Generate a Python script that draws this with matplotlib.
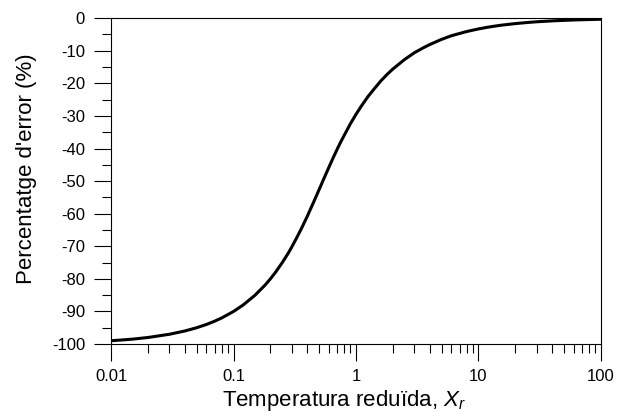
import matplotlib
matplotlib.use("Agg")
from matplotlib import pyplot as plt
from matplotlib.ticker import FixedLocator, MultipleLocator, LogLocator, NullFormatter

plt.rcParams['font.family'] = ['Liberation Sans', 'DejaVu Sans']
plt.rcParams['mathtext.fontset'] = 'custom'
plt.rcParams['mathtext.rm'] = 'Liberation Sans'
plt.rcParams['mathtext.it'] = 'Liberation Sans:italic'
plt.rcParams['axes.unicode_minus'] = False

# reduced temperature and error (%)
temp_r = [0.01, 0.015, 0.02, 0.03, 0.04, 0.05, 0.06, 0.07, 0.08, 0.1, 0.12, 0.15,
          0.18, 0.2, 0.22, 0.25, 0.28, 0.3, 0.33, 0.36, 0.4, 0.45, 0.5, 0.55, 0.6,
          0.65, 0.7, 0.75, 0.8, 0.9, 1.0, 1.1, 1.25, 1.4, 1.6, 1.8, 2, 2.5, 3, 3.5,
          4, 5, 6, 7, 8, 10, 12, 15, 20, 25, 30, 40, 50, 60, 70, 80, 100]
error_pct = [-99.0, -98.5, -98.0, -97.0, -96.0, -95.0, -94.0, -93.0, -92.0, -90.0,
             -88.0, -85.0, -82.0, -80.0, -78.0, -75.0, -72.1, -70.1, -67.2, -64.4,
             -60.8, -56.5, -52.6, -49.0, -45.8, -42.9, -40.3, -38.0, -36.0, -32.4,
             -29.5, -27.1, -24.1, -21.8, -19.2, -17.2, -15.6, -12.65, -10.6, -9.2,
             -8.1, -6.5, -5.4, -4.7, -4.1, -3.3, -2.75, -2.2, -1.66, -1.33, -1.1,
             -0.83, -0.67, -0.55, -0.48, -0.42, -0.33]

x_ticks = [0.01, 0.1, 1, 10, 100]
x_ticklabels = ['0.01', '0.1', '1', '10', '100']
y_ticks = [0, -10, -20, -30, -40, -50, -60, -70, -80, -90, -100]
y_ticklabels = [str(v) for v in y_ticks]

fig = plt.figure(figsize=(6.17, 4.13), dpi=100)
ax = fig.add_axes([0.18, 0.167, 0.794, 0.789])

ax.plot(temp_r, error_pct, color='black', linewidth=2.2)

ax.set_xscale('log')
ax.set_xlim(0.01, 100)
ax.set_ylim(-100, 0)

ax.xaxis.set_major_locator(FixedLocator(x_ticks))
ax.set_xticklabels(x_ticklabels)
ax.xaxis.set_minor_locator(LogLocator(base=10, subs=range(2, 10)))
ax.xaxis.set_minor_formatter(NullFormatter())
ax.yaxis.set_major_locator(FixedLocator(y_ticks))
ax.set_yticklabels(y_ticklabels)
ax.yaxis.set_minor_locator(MultipleLocator(5))

ax.tick_params(which='major', direction='out', length=12.2, width=0.8, labelsize=12, pad=6.5)
ax.tick_params(which='minor', direction='out', length=6.5, width=0.8)
ax.tick_params(axis='x', which='major', pad=6)
for s in ax.spines.values():
    s.set_linewidth(0.8)

ax.set_xlabel('Temperatura reduïda, $X_r$', fontsize=16)
ax.set_ylabel("Percentatge d'error (%)", fontsize=16)
ax.xaxis.set_label_coords(0.476, -0.135)
ax.yaxis.set_label_coords(-0.151, 0.538)

fig.savefig('out.png', dpi=100)
